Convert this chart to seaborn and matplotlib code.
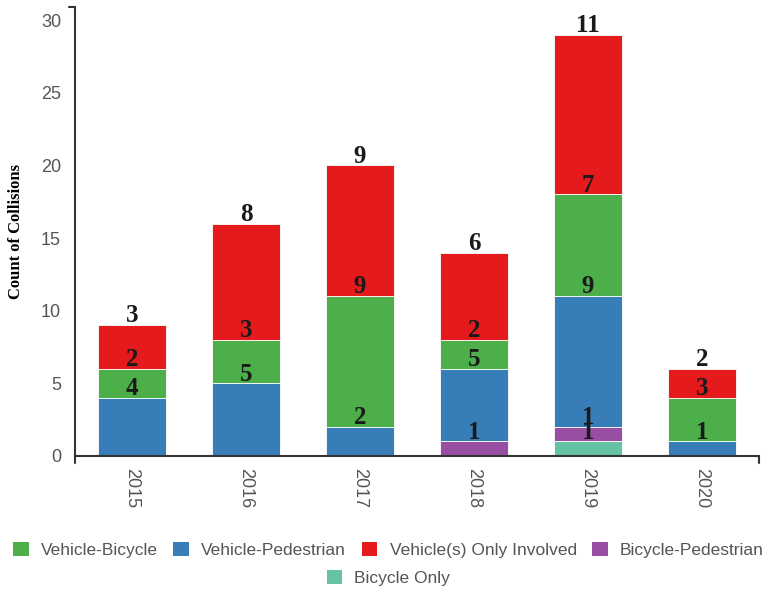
import numpy as np
import pandas as pd
import seaborn as sns
import matplotlib.pyplot as plt
from matplotlib.lines import Line2D
from matplotlib.patches import Patch

# Data
years = ['2015', '2016', '2017', '2018', '2019', '2020']
bicycle_only       = [0, 0, 0, 0, 1, 0]
bicycle_pedestrian = [0, 0, 0, 1, 1, 0]
vehicle_pedestrian = [4, 5, 2, 5, 9, 1]
vehicle_bicycle    = [2, 3, 9, 2, 7, 3]
vehicle_only       = [3, 8, 9, 6, 11, 2]

# Colors
GREEN  = "#4daf4a"
BLUE   = "#377eb8"
RED    = "#e41a1c"
PURPLE = "#984ea3"
TEAL   = "#66c2a5"
AXIS   = "#333333"
TEXT   = "#555555"

sns.set_style("white")
plt.rcParams['font.family'] = ['Liberation Sans', 'DejaVu Sans']

# stacking order, bottom to top
layers = [
    ("Bicycle Only", bicycle_only, TEAL),
    ("Bicycle-Pedestrian", bicycle_pedestrian, PURPLE),
    ("Vehicle-Pedestrian", vehicle_pedestrian, BLUE),
    ("Vehicle-Bicycle", vehicle_bicycle, GREEN),
    ("Vehicle(s) Only Involved", vehicle_only, RED),
]

fig = plt.figure(figsize=(7.77, 5.92), dpi=100)
ax = fig.add_axes([75 / 777, 136 / 592, 684 / 777, 449 / 592])

bottom = np.zeros(len(years))
for name, vals, color in layers:
    df = pd.DataFrame({"year": years, "count": vals})
    sns.barplot(data=df, x="year", y="count", color=color, width=0.6,
                bottom=bottom, edgecolor="white", linewidth=0.6,
                saturation=1, ax=ax, errorbar=None)
    tops = bottom + np.array(vals)
    for i, v in enumerate(vals):
        if v > 0:
            ax.annotate(str(v), (i, tops[i]), xytext=(0, 2), textcoords="offset points",
                        ha="center", va="baseline", fontsize=18, fontweight="bold",
                        family="Liberation Serif", color="#1a1a1a")
    bottom = tops

ax.set_xlim(-0.5, 5.5)
ax.set_ylim(0, 30.9)
ax.set_yticks([0, 5, 10, 15, 20, 25, 30])
ax.set_xlabel("")
ax.set_ylabel("Count of Collisions", fontsize=12, fontweight="bold",
              family="Liberation Serif", color="black")
ax.yaxis.set_label_coords(-0.074, 0.5)

for s in ["top", "right"]:
    ax.spines[s].set_visible(False)
for s in ["left", "bottom"]:
    ax.spines[s].set_color(AXIS)
    ax.spines[s].set_linewidth(1.5)

ax.tick_params(axis="y", length=5, width=0.8, color="#999999", labelsize=13,
               labelcolor=TEXT, pad=5)
ax.tick_params(axis="x", length=0, labelsize=13, labelcolor=TEXT, pad=9,
               labelrotation=-90)
ax.set_xticks(np.arange(0.5, 5.5, 1), minor=True)
ax.tick_params(axis="x", which="minor", length=2, width=1, color=AXIS)

# outer ticks at the axis ends, in figure pixel coords
px = lambda x, y: (x / 777, (592 - y) / 592)
for (x1, y1), (x2, y2) in [((69, 7), (75, 7)), ((75, 456), (75, 463)),
                           ((759, 456), (759, 463))]:
    a, b = px(x1, y1), px(x2, y2)
    fig.add_artist(Line2D([a[0], b[0]], [a[1], b[1]], color=AXIS, lw=1.5))

# legend, two centered rows
row1 = [("Vehicle-Bicycle", GREEN), ("Vehicle-Pedestrian", BLUE),
        ("Vehicle(s) Only Involved", RED), ("Bicycle-Pedestrian", PURPLE)]
row2 = [("Bicycle Only", TEAL)]
for row, yy in [(row1, (592 - 550) / 592), (row2, (592 - 578) / 592)]:
    handles = [Patch(facecolor=c, edgecolor="none", label=n) for n, c in row]
    fig.legend(handles=handles, loc="center", bbox_to_anchor=(0.5, yy),
               ncol=len(row), frameon=False, fontsize=12.5, labelcolor=TEXT,
               handlelength=0.9, handleheight=0.9, handletextpad=0.7,
               columnspacing=0.9, borderpad=0)

fig.savefig("out.png", dpi=100)
